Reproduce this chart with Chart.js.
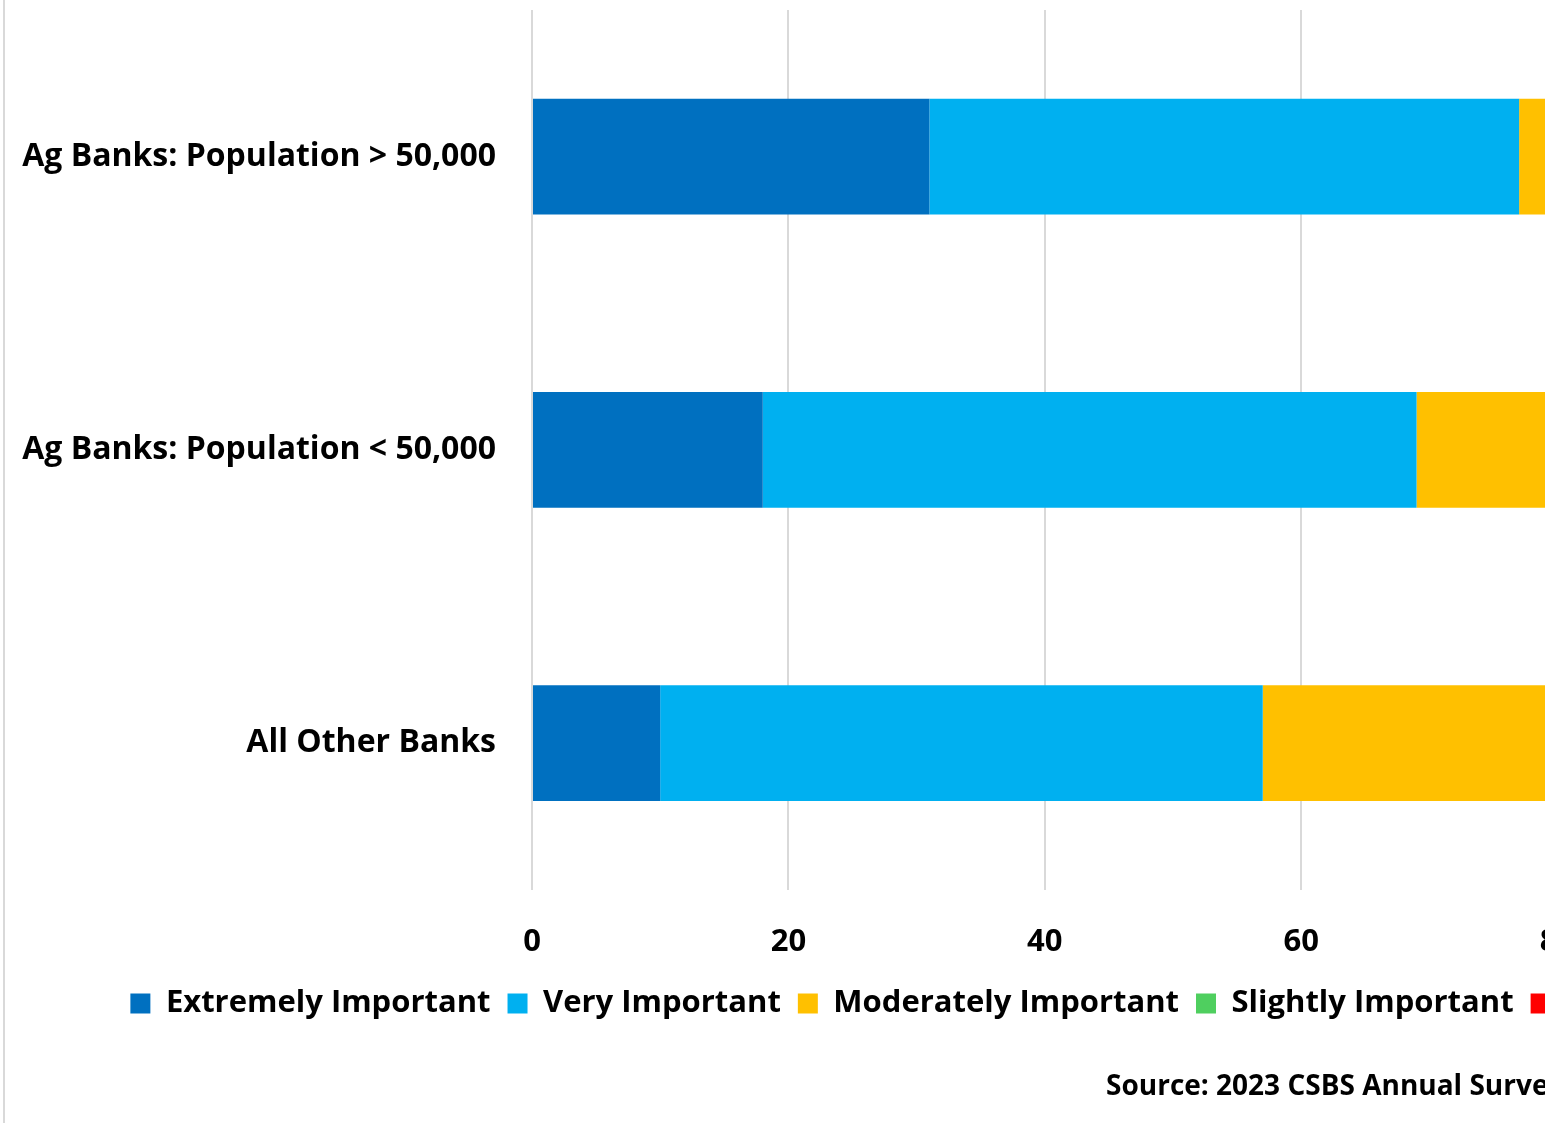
<!DOCTYPE html>
<html>
<head>
<meta charset="utf-8">
<script src="https://cdn.jsdelivr.net/npm/chart.js@4"></script>
<style>
  body { margin: 0; overflow: hidden; background: #fff; }
  #wrap { position: absolute; left: 0; top: 0; width: 2016px; height: 1123px; }
</style>
</head>
<body>
<div id="wrap"><canvas id="chart" width="2016" height="1123"></canvas></div>
<script>
// categories (top to bottom)
const categories = ["Ag Banks: Population > 50,000", "Ag Banks: Population < 50,000", "All Other Banks"];

// percent of respondents per answer
const extremely = [31, 18, 10];
const very = [46, 51, 47];
const moderately = [18, 25, 33];   // mostly cut off in the picture, estimated
const slightly = [4, 5, 8];        // estimated
const notImportant = [1, 1, 2];    // estimated

const xTicks = [0, 20, 40, 60, 80, 100];

const FONT = "'Open Sans'";

// grey frame line at the left edge + source note, legend nudged right
const extras = {
    id: "extras",
    afterLayout(chart) {
        const lg = chart.legend;
        lg.left += 54;
        lg.right += 54;
    },
    beforeDraw(chart) {
        const c = chart.ctx;
        c.save();
        c.fillStyle = "#fff";
        c.fillRect(0, 0, chart.width, chart.height);
        c.strokeStyle = "#d9d9d9";
        c.lineWidth = 2;
        c.beginPath();
        c.moveTo(4, 0);
        c.lineTo(4, chart.height);
        c.stroke();
        c.restore();
    },
    afterDraw(chart) {
        const c = chart.ctx;
        c.save();
        c.font = "bold 28px " + FONT;
        c.fillStyle = "#000";
        c.textBaseline = "middle";
        c.textAlign = "left";
        c.fillText("Source: 2023 CSBS Annual Survey", 1106, 1087);
        c.restore();
    }
};

const ctx = document.getElementById("chart").getContext("2d");
new Chart(ctx, {
    type: "bar",
    data: {
        labels: categories,
        datasets: [
            { label: "Extremely Important", data: extremely, backgroundColor: "#0070C0" },
            { label: "Very Important", data: very, backgroundColor: "#00B0F0" },
            { label: "Moderately Important", data: moderately, backgroundColor: "#FFC000" },
            { label: "Slightly Important", data: slightly, backgroundColor: "#4FCF5F" },
            { label: "Not Important", data: notImportant, backgroundColor: "#FF0000" }
        ]
    },
    options: {
        indexAxis: "y",
        responsive: false,
        animation: false,
        devicePixelRatio: 1,
        layout: { padding: { top: 10, right: 202, left: 0, bottom: 94 } },
        datasets: { bar: { categoryPercentage: 1, barPercentage: 0.395, borderWidth: 0 } },
        scales: {
            x: {
                stacked: true,
                min: 0,
                max: 100,
                afterBuildTicks: (s) => { s.ticks = xTicks.map(v => ({ value: v })); },
                afterFit: (s) => { s.height -= 24; },
                grid: { color: "#d9d9d9", lineWidth: 2, drawTicks: false },
                border: { display: false },
                ticks: { padding: 34, color: "#000", font: { family: FONT, size: 31, weight: "bold" } }
            },
            y: {
                stacked: true,
                afterFit: (s) => { s.width = 532; s.paddingTop = 0; s.paddingBottom = 0; },
                grid: { display: false, drawTicks: false },
                border: { display: false },
                ticks: { padding: 36, color: "#000", font: { family: FONT, size: 32, weight: "bold" } }
            }
        },
        plugins: {
            legend: {
                position: "bottom",
                labels: {
                    boxWidth: 20,
                    boxHeight: 20,
                    padding: 17,
                    color: "#000",
                    font: { family: FONT, size: 31, weight: "bold" }
                }
            },
            tooltip: { enabled: false }
        }
    },
    plugins: [extras]
});
</script>
</body>
</html>
